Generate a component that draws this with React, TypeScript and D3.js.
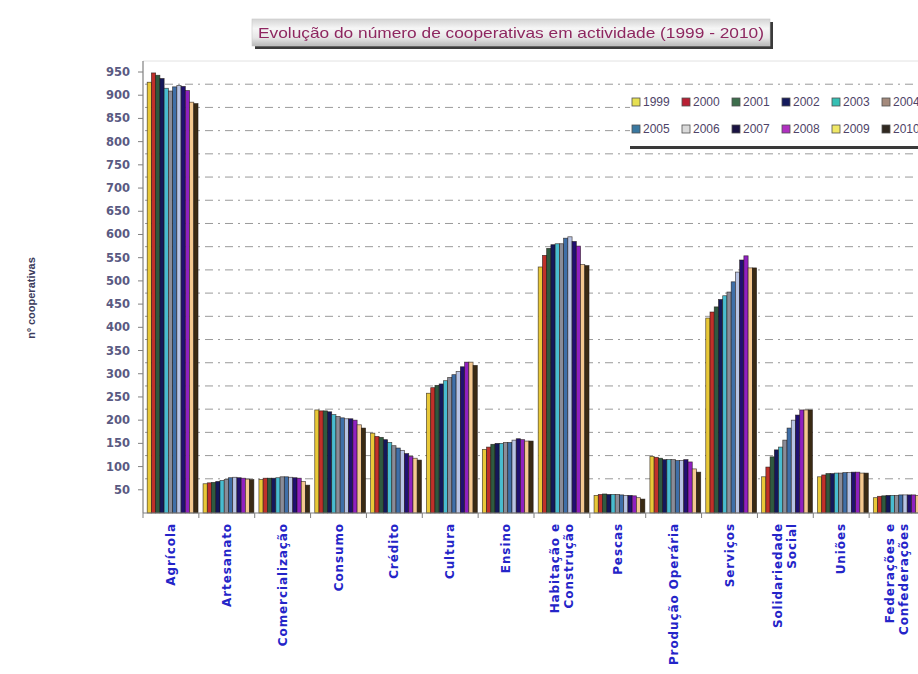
import React from "react";
import * as d3 from "d3";

// Categories (cooperative sectors) and how their axis labels break into lines
const categories = [
  "Agrícola", "Artesanato", "Comercialização", "Consumo", "Crédito", "Cultura", "Ensino",
  "Habitação e Construção", "Pescas", "Produção Operária", "Serviços", "Solidariedade Social",
  "Uniões", "Federações e Confederações",
];
const categoryLines = [
  ["Agrícola"], ["Artesanato"], ["Comercialização"], ["Consumo"], ["Crédito"], ["Cultura"], ["Ensino"],
  ["Habitação e", "Construção"], ["Pescas"], ["Produção Operária"], ["Serviços"], ["Solidariedade", "Social"],
  ["Uniões"], ["Federações e", "Confederações"],
];

const years = ["1999", "2000", "2001", "2002", "2003", "2004", "2005", "2006", "2007", "2008", "2009", "2010"];

// Number of cooperatives per sector, one array per year
const v1999 = [928, 63, 72, 222, 172, 258, 137, 530, 38, 122, 420, 78, 78, 33];
const v2000 = [948, 65, 75, 220, 165, 270, 142, 555, 40, 120, 433, 99, 82, 36];
const v2001 = [943, 66, 75, 220, 163, 275, 148, 570, 41, 118, 444, 121, 85, 37];
const v2002 = [936, 68, 75, 218, 158, 278, 150, 578, 40, 115, 460, 136, 85, 38];
const v2003 = [915, 70, 76, 212, 152, 285, 150, 580, 40, 115, 468, 142, 86, 38];
const v2004 = [909, 72, 78, 208, 145, 292, 152, 580, 40, 115, 476, 157, 86, 38];
const v2005 = [918, 76, 78, 205, 140, 298, 152, 592, 39, 113, 498, 183, 87, 39];
const v2006 = [921, 77, 77, 203, 135, 305, 157, 595, 38, 113, 519, 200, 87, 39];
const v2007 = [919, 76, 76, 203, 128, 315, 160, 585, 38, 115, 545, 211, 88, 39];
const v2008 = [910, 75, 75, 200, 122, 325, 158, 575, 37, 110, 554, 222, 88, 39];
const v2009 = [885, 73, 68, 190, 118, 325, 155, 535, 33, 95, 528, 222, 86, 38];
const v2010 = [882, 72, 60, 183, 114, 318, 155, 533, 30, 88, 528, 222, 86, 38];
const series = [v1999, v2000, v2001, v2002, v2003, v2004, v2005, v2006, v2007, v2008, v2009, v2010];

const yTicks = d3.range(50, 951, 50);

const barColors = [
  "#e8c838", "#c0302a", "#2f5a40", "#14185a", "#48bcd0", "#8a8c98",
  "#3f6fa8", "#b8c4e4", "#201070", "#9020c0", "#f4c890", "#3a2a14",
];
const legendColors = [
  "#e6e052", "#b82034", "#3d6e4c", "#141a5c", "#36c0b4", "#a48a7c",
  "#3a78a0", "#dadada", "#1a1242", "#b030c0", "#f0e866", "#302820",
];

const W = 918;
const H = 674;
const plotLeft = 143;
const plotRight = 925;
const plotBottom = 513;
const plotTop = 72;
const wallShift = 11; // back-wall gridlines sit slightly above their tick

export default function App() {
  const y = d3.scaleLinear().domain([0, 950]).range([plotBottom, plotTop]);
  const x = d3.scaleBand().domain(categories).range([plotLeft, plotRight]);
  const inner = d3
    .scaleBand()
    .domain(years)
    .range([x.bandwidth() * 0.075, x.bandwidth() * 0.985]);

  const legendX = d3.scaleLinear().domain([0, 1]).range([632, 682]);

  return (
    <svg
      width={W}
      height={H}
      style={{ position: "absolute", left: 0, top: 0, background: "#ffffff" }}
      fontFamily="'Liberation Sans', Arial, sans-serif"
    >
      <defs>
        <linearGradient id="titleGrad" x1="0" y1="0" x2="0" y2="1">
          <stop offset="0%" stopColor="#d4d4d4" />
          <stop offset="35%" stopColor="#f6f6f6" />
          <stop offset="70%" stopColor="#e6e6e6" />
          <stop offset="100%" stopColor="#b8b8b8" />
        </linearGradient>
        <filter id="soft" x="-5%" y="-30%" width="110%" height="160%">
          <feGaussianBlur stdDeviation="0.45" />
        </filter>
      </defs>

      {/* back-wall gridlines */}
      {yTicks.map((t) =>
        t < 950 ? (
          <line
            key={"g" + t}
            x1={plotLeft + 2}
            x2={W}
            y1={y(t) - wallShift}
            y2={y(t) - wallShift}
            stroke="#9a9a9a"
            strokeWidth={1}
            strokeDasharray="8,5,2,5"
          />
        ) : (
          <line key={"g" + t} x1={plotLeft} x2={W} y1={y(t) - wallShift} y2={y(t) - wallShift} stroke="#e2e2e2" />
        )
      )}

      {/* bars */}
      {categories.map((c, ci) => (
        <g key={c} transform={`translate(${x(c)},0)`}>
          {years.map((yr, si) => {
            const v = series[si][ci];
            return (
              <rect
                key={yr}
                x={inner(yr)}
                y={y(v)}
                width={inner.bandwidth()}
                height={plotBottom - y(v)}
                fill={barColors[si]}
                stroke="#1c1410"
                strokeWidth={0.7}
                strokeOpacity={0.75}
              />
            );
          })}
        </g>
      ))}

      {/* y axis */}
      <line x1={plotLeft} x2={plotLeft} y1={y(950) - wallShift} y2={plotBottom} stroke="#808080" strokeWidth={1.2} />
      {yTicks.map((t) => (
        <g key={"t" + t}>
          <line x1={plotLeft - 5} x2={plotLeft} y1={y(t)} y2={y(t)} stroke="#808080" />
          <text
            x={plotLeft - 13}
            y={y(t)}
            dy="0.35em"
            textAnchor="end"
            fontFamily="'DejaVu Sans', Verdana, sans-serif"
            fontWeight="bold"
            fontSize={11.5}
            fill="#5a5a82"
          >
            {t}
          </text>
        </g>
      ))}

      {/* x axis */}
      <line x1={plotLeft} x2={W} y1={plotBottom} y2={plotBottom} stroke="#808080" strokeWidth={1.2} />
      {categories.map((c) => (
        <line key={"xt" + c} x1={x(c)} x2={x(c)} y1={plotBottom} y2={plotBottom + 5} stroke="#808080" />
      ))}
      {categories.map((c, ci) => {
        const lines = categoryLines[ci];
        const cx = (x(c) as number) + x.bandwidth() / 2;
        return lines.map((ln, li) => {
          const lx = cx + (li - (lines.length - 1) / 2) * 14 + 4;
          return (
            <text
              key={c + li}
              transform={`translate(${lx},${plotBottom + 10}) rotate(-90)`}
              textAnchor="end"
              fontFamily="'DejaVu Sans', Verdana, sans-serif"
              fontWeight="bold"
              fontSize={12}
              letterSpacing={0.9}
              fill="#2424c8"
            >
              {ln}
            </text>
          );
        });
      })}

      {/* y axis title */}
      <text
        transform={`translate(${35},${298}) rotate(-90)`}
        textAnchor="middle"
        fontWeight="bold"
        fontSize={11}
        fill="#3c3c5c"
      >
        nº cooperativas
      </text>

      {/* title */}
      <rect x={255} y={22} width={518} height={27} fill="#3a3a3a" />
      <rect x={252} y={19} width={518} height={27} fill="url(#titleGrad)" stroke="#c8c8c8" strokeWidth={0.6} />
      <text
        x={511}
        y={38}
        textAnchor="middle"
        fontSize={15}
        textLength={506}
        lengthAdjust="spacingAndGlyphs"
        fill="#8e2860"
        filter="url(#soft)"
      >
        Evolução do número de cooperativas em actividade (1999 - 2010)
      </text>

      {/* legend */}
      <rect x={630} y={87} width={300} height={60} fill="#ffffff" />
      <rect x={630} y={146} width={300} height={3} fill="#3a3a3a" />
      {years.map((yr, i) => {
        const col = i % 6;
        const row = Math.floor(i / 6);
        const lx = legendX(col);
        const ly = 102 + row * 27;
        return (
          <g key={"l" + yr}>
            <rect x={lx} y={ly - 4} width={8} height={8} fill={legendColors[i]} stroke="#505050" strokeWidth={0.8} />
            <text x={lx + 11} y={ly} dy="0.36em" fontSize={12} fill="#4e4468">
              {yr}
            </text>
          </g>
        );
      })}
    </svg>
  );
}
